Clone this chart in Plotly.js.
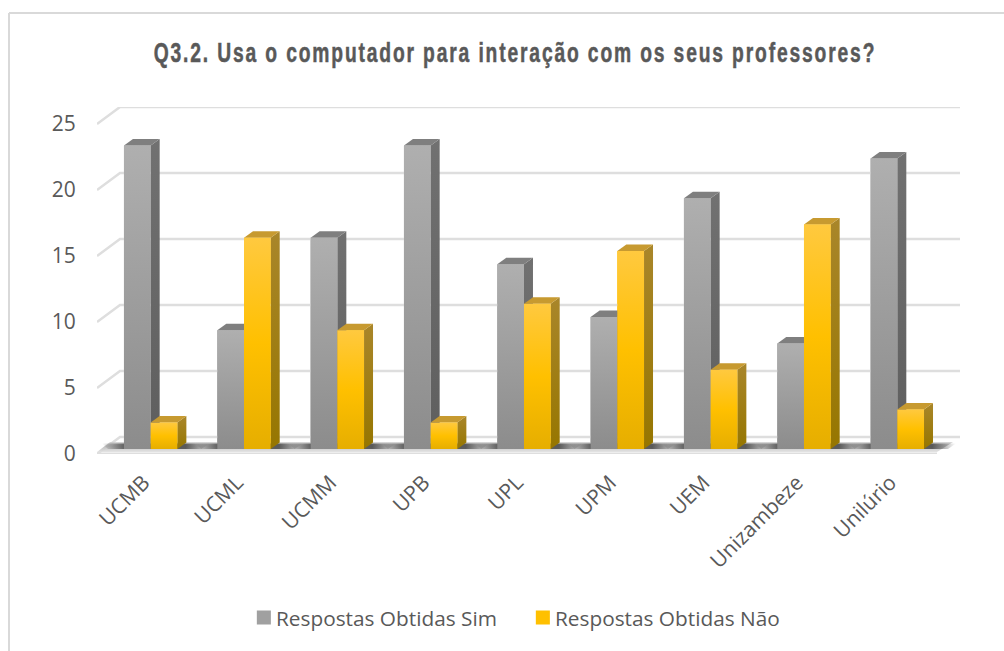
<!DOCTYPE html>
<html><head><meta charset="utf-8">
<script src="https://cdn.plot.ly/plotly-3.0.1.min.js"></script>
<style>html,body{margin:0;padding:0;background:#fff}#c{width:1004px;height:651px}
.gtitle{letter-spacing:2.6px;stroke:#595959;stroke-width:0.5px}</style></head>
<body><div id="c"></div>
<script>
const categories=["UCMB","UCML","UCMM","UPB","UPL","UPM","UEM","Unizambeze","Unilúrio"];
const sim=[23,9,16,23,14,10,19,8,22];
const nao=[2,16,9,2,11,15,6,17,3];
const yTicks=[0,5,10,15,20,25];
const titleText="Q3.2. Usa o computador para interação com os seus professores?";

const W=1004,H=651;
const L=97,R=960,B=454,T=107;
const PX=93.33, PY=13.2;             // pixels per axis unit
const ux=p=>p/PX, uy=p=>p/PY;
const xMax=(R-L)/PX, yMax=(B-T)/PY;
const wallX=ux(23), wallY=uy(17);
const barW=ux(26.7), barShift=ux(7), barBase=uy(5);
const sideX=ux(9), sideY=uy(6.5);

const GRAY={front:[[0,'#8c8c8c'],[1,'#afafaf']],side:[[0,'#5e5e5e'],[1,'#717171']],top:'#7f7f7f',leg:'#a0a0a0'};
const GOLD={front:[[0,'#e6ae00'],[0.5,'#ffc000'],[1,'#ffc93f']],side:[[0,'#967600'],[1,'#a9862a']],top:'#c79a30',leg:'#ffc000'};

const poly=(xs,ys,extra)=>Object.assign({type:'scatter',x:xs,y:ys,mode:'lines',line:{width:0},fill:'toself',
  hoverinfo:'skip',showlegend:false},extra);
const solid=c=>({fillcolor:c});
const grad=(scale,ys)=>({fillcolor:'rgba(0,0,0,0)',fillgradient:{type:'vertical',colorscale:scale,start:Math.min(...ys),stop:Math.max(...ys)}});
const hgrad=(scale,xs)=>({fillcolor:'rgba(0,0,0,0)',fillgradient:{type:'horizontal',colorscale:scale,start:Math.min(...xs),stop:Math.max(...xs)}});
const line=(xs,ys,w)=>({type:'scatter',x:xs,y:ys,mode:'lines',line:{color:'#dedede',width:w},hoverinfo:'skip',showlegend:false});

const centers=categories.map((_,i)=>i+0.5);
const traces=[];
traces.push({type:'bar',name:'Respostas Obtidas Sim',x:centers.map(c=>c+barShift-barW/2),y:sim,base:barBase,width:barW,marker:{color:GRAY.leg},hoverinfo:'skip'});
traces.push({type:'bar',name:'Respostas Obtidas Não',x:centers.map(c=>c+barShift+barW/2),y:nao,base:barBase,width:barW,marker:{color:GOLD.leg},hoverinfo:'skip'});
yTicks.forEach(v=>traces.push(line([0,wallX,xMax],[v,v+wallY,v+wallY],2.5)));
traces.push(line([0,xMax-wallX],[0,0],3));
// floor haze
const hx=[ux(13),xMax-ux(7),xMax-ux(23),ux(0)];
const hy=[uy(12),uy(12),uy(2),uy(2)];
traces.push(poly(hx,hy,grad([[0,'rgba(225,225,225,0.9)'],[0.6,'rgba(185,185,185,0.9)'],[1,'rgba(200,200,200,0.7)']],hy)));
function addBar(x0,v,st){
  const x1=x0+barW, b=barBase, t=barBase+v;
  const sy=[b,b+sideY,t+sideY,t], sx=[x1,x1+sideX,x1+sideX,x1];
  traces.push(poly(sx,sy,grad(st.side,sy)));
  traces.push(poly([x0,x1,x1+sideX,x0+sideX],[t,t,t+sideY,t+sideY],solid(st.top)));
  const fy=[b,b,t,t];
  traces.push(poly([x0,x1,x1,x0],fy,grad(st.front,fy)));
}
categories.forEach((_,i)=>{
  const c=centers[i]+barShift;
  const sx=[c-barW-ux(22),c+barW+ux(32),c+barW+ux(24),c-barW-ux(16)];
  const sy=[uy(10.5),uy(10.5),uy(5),uy(5)];
  traces.push(poly(sx,sy,hgrad([[0,'rgba(70,70,70,0)'],[0.22,'rgba(55,55,55,0.75)'],[0.78,'rgba(55,55,55,0.75)'],[1,'rgba(70,70,70,0)']],sx)));
  addBar(c-barW,sim[i],GRAY);
  addBar(c,nao[i],GOLD);
});

const layout={
  width:W,height:H,margin:{l:0,r:0,t:0,b:0},paper_bgcolor:'#fff',plot_bgcolor:'rgba(0,0,0,0)',
  barmode:'overlay',hovermode:false,
  title:{text:titleText,x:515/W,xanchor:'center',y:1-53/H,yanchor:'middle',
    font:{family:'"Liberation Sans",sans-serif',size:27,color:'#595959',weight:700}},
  xaxis:{domain:[L/W,R/W],range:[0,xMax],tickmode:'array',tickvals:centers,ticktext:categories,tickangle:-45,
    showgrid:false,zeroline:false,showline:false,ticks:'outside',ticklen:7,tickcolor:'rgba(0,0,0,0)',
    tickfont:{family:'"Open Sans",sans-serif',size:21,color:'#595959'}},
  yaxis:{domain:[1-B/H,1-T/H],range:[0,yMax],tickmode:'array',tickvals:yTicks,ticktext:yTicks.map(String),
    showgrid:false,zeroline:false,showline:false,ticks:'outside',ticklen:16,tickcolor:'rgba(0,0,0,0)',
    tickfont:{family:'"Open Sans",sans-serif',size:21,color:'#595959'}},
  legend:{orientation:'h',x:236/W,xanchor:'left',y:1-618/H,yanchor:'middle',entrywidth:234,entrywidthmode:'pixels',
    font:{family:'"Open Sans",sans-serif',size:20.8,color:'#595959'},bgcolor:'rgba(0,0,0,0)',traceorder:'normal'},
  shapes:[
    {type:'line',xref:'paper',yref:'paper',x0:9/W,x1:9/W,y0:0,y1:1-13/H,line:{color:'#d9d9d9',width:2}},
    {type:'line',xref:'paper',yref:'paper',x0:9/W,x1:1,y0:1-13/H,y1:1-13/H,line:{color:'#d9d9d9',width:2}}
  ]
};
Plotly.newPlot('c',traces,layout,{displayModeBar:false,staticPlot:true}).then(gd=>{
  // condensed title: no narrow bold face is installed
  const t=gd.querySelector('.gtitle');
  if(t){const box=t.getBBox();const cx=box.x+box.width/2;const k=723/box.width;
    t.setAttribute('transform','translate('+(515-cx)+',0) translate('+cx+',0) scale('+k+',1) translate('+(-cx)+',0)');}
  // legend swatches sit close to their text and are slightly larger
  gd.querySelectorAll('.legend .legendsymbols').forEach(s=>s.setAttribute('transform','translate(22,0) scale(1.17) translate(-15,0)'));
});
</script></body></html>
